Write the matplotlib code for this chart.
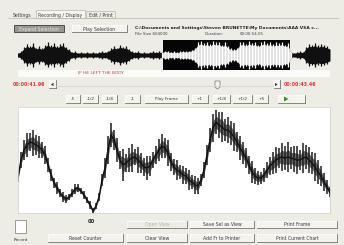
import numpy as np
import matplotlib
matplotlib.use("Agg")
import matplotlib.pyplot as plt
from matplotlib.patches import Rectangle, Polygon

# ---------------- data ----------------
tab_labels = ["Settings", "Recording / Display", "Edit / Print"]
file_path = "C:\\Documents and Settings\\Steven BRUNETTE\\My Documents\\AAA VSA c..."
file_size = "File Size 604000"
duration_label = "Duration:"
duration_value = "00:00:54.05"
transcript = "IF HE LEFT THE BODY"
time_start = "00:00:41.96"
time_end = "00:00:43.46"
step_labels = ["-5", "-1/2", "-1/8", "-1", "Play Frame", "+1", "+1/8", "+1/2", "+5"]
counter_label = "00"
bottom_row1 = ["Open View", "Save Sel as View", "Print Frame"]
bottom_row2 = ["Reset Counter", "Clear View", "Add Fr to Printer", "Print Current Chart"]

# overview waveform envelope (fraction of full scale)
wave_amp = [0.15, 0.25, 0.55, 0.75, 0.6, 0.8, 0.5, 0.6, 0.45, 0.7,
            0.85, 0.65, 0.8, 0.6, 0.75, 0.8, 0.55, 0.4, 0.2, 0.25,
            0.15, 0.2, 0.15, 0.2, 0.15, 0.2, 0.15, 0.2, 0.25, 0.2,
            0.3, 0.45, 0.6, 0.5, 0.7, 0.55, 0.6, 0.4, 0.25, 0.2,
            0.25, 0.15, 0.2, 0.15, 0.2, 0.25, 0.2, 0.25, 0.2,
            0.3, 0.25, 0.2, 0.25, 0.2, 0.25, 0.3, 0.25, 0.3, 0.35,
            0.5, 0.85, 0.95, 0.8, 0.9, 0.75, 0.95, 0.85, 0.9, 0.7,
            0.85, 0.6, 0.45, 0.4, 0.5, 0.85, 0.9, 0.75, 0.95, 0.8,
            0.9, 0.7, 0.85, 0.95, 0.8, 0.9, 0.75, 0.85, 0.8, 0.9,
            0.7, 0.8,
            0.2, 0.15, 0.2, 0.25, 0.2, 0.55, 0.75, 0.7, 0.8, 0.65,
            0.75, 0.7, 0.6, 0.5]
sel_start = 48.3
sel_end = 90.7

# pitch trace: centre value and spread of the jitter
trace_center = [36, 53, 63, 68, 71, 70, 68, 66, 63, 58,
                48, 38, 30, 25, 20, 16, 14,
                16, 20, 24, 25, 22, 18, 13, 8, 2, 7,
                16, 33, 45, 63, 78, 73, 63, 53,
                48, 50, 53, 55, 56, 53, 50, 46, 45, 47, 53, 58, 63, 67, 65, 60, 51,
                46, 43, 41, 38, 37, 33, 31, 28, 27, 33,
                43, 58, 73, 85, 91, 88, 86, 83, 83, 80, 76, 71, 65, 60,
                55, 48, 41, 37, 35, 35, 38, 43, 47,
                50, 53, 55, 56, 55, 56, 55, 54, 53, 53, 55, 56, 53, 50, 46, 41, 37, 31, 26, 21]
trace_spread = [5, 8, 10, 12, 9, 13, 10, 11, 8, 9,
                7, 6, 5, 6, 4, 5, 4,
                3, 4, 5, 4, 3, 4, 3, 4, 3, 3,
                4, 6, 10, 14, 12, 10, 12, 9,
                16, 9, 12, 14, 8, 13, 10, 9, 12, 10, 8, 9, 11, 12, 10, 13, 9,
                8, 10, 7, 9, 8, 10, 7, 9, 8, 6,
                8, 10, 12, 14, 12, 13, 15, 11, 13, 12, 14, 10, 12, 11,
                10, 9, 11, 8, 7, 6, 7, 8, 9,
                11, 13, 10, 14, 12, 15, 11, 13, 14, 10, 15, 12, 13, 11, 14, 12, 10, 9, 7, 5]

# ---------------- figure ----------------
W, H = 344, 245
fig = plt.figure(figsize=(W / 100, H / 100), dpi=100)
fig.patch.set_facecolor("#EEEDE5")
ui = fig.add_axes([0, 0, 1, 1])
ui.set_xlim(0, W)
ui.set_ylim(H, 0)
ui.axis("off")

BG = "#EEEDE5"
TXT = "#3a3a3a"
RED = "#D23838"
FS = 3.3


def button(x0, y0, x1, y1, label, fs=FS, color=TXT, face="#F4F3EE"):
    ui.add_patch(Rectangle((x0, y0), x1 - x0, y1 - y0, facecolor=face, edgecolor="none"))
    ui.plot([x0, x1], [y0, y0], color="#ffffff", lw=0.5)
    ui.plot([x0, x0], [y0, y1], color="#ffffff", lw=0.5)
    ui.plot([x0, x1], [y1, y1], color="#77766e", lw=0.6)
    ui.plot([x1, x1], [y0, y1], color="#77766e", lw=0.6)
    if label:
        ui.text((x0 + x1) / 2, (y0 + y1) / 2 + 0.3, label, fontsize=fs, color=color,
                ha="center", va="center")


# tabs
ui.plot([8, 338], [18.5, 18.5], color="#b8b7ae", lw=0.5)
ui.text(22, 15, tab_labels[0], fontsize=FS, color=TXT, ha="center", va="center")
ui.add_patch(Rectangle((36, 10.5), 49, 8, facecolor="#F7F6F1", edgecolor="#b8b7ae", lw=0.5))
ui.text(60.5, 15, tab_labels[1], fontsize=FS, color=TXT, ha="center", va="center")
ui.add_patch(Rectangle((86, 11.5), 29, 7, facecolor=BG, edgecolor="#b8b7ae", lw=0.5))
ui.text(100.5, 15.3, tab_labels[2], fontsize=FS, color=TXT, ha="center", va="center")

# top buttons
ui.add_patch(Rectangle((14, 25.5), 50, 7, facecolor="#97968f", edgecolor="#4d4d48", lw=0.7))
ui.text(39, 29.2, "Expand Selection", fontsize=FS, color="#ecebe4", ha="center", va="center")
button(72, 25.5, 127, 32.5, "Play Selection")

ui.text(135, 27.5, file_path, fontsize=3.2, color="#222222", ha="left", va="center",
        fontweight="bold")
ui.text(135, 34, file_size, fontsize=2.9, color=TXT, ha="left", va="center")
ui.text(205, 34, duration_label, fontsize=2.9, color=TXT, ha="left", va="center")
ui.text(240, 34, duration_value, fontsize=2.9, color=TXT, ha="left", va="center")

# transcript strip
ui.add_patch(Rectangle((18, 69.5), 312, 7.5, facecolor="#FAFAF7", edgecolor="none"))
ui.text(78, 73.3, transcript, fontsize=3.2, color=RED, ha="left", va="center")

# slider row
ui.text(13, 84.5, time_start, fontsize=3.4, color=RED, ha="left", va="center", fontweight="bold")
ui.text(284, 84.5, time_end, fontsize=3.4, color=RED, ha="left", va="center", fontweight="bold")
button(49, 80.5, 55.5, 88.5, "")
ui.add_patch(Polygon([[51, 84.5], [53.5, 82.8], [53.5, 86.2]], closed=True, facecolor="#333"))
button(273.5, 80.5, 279.5, 88.5, "")
ui.add_patch(Polygon([[277.5, 84.5], [275, 82.8], [275, 86.2]], closed=True, facecolor="#333"))
ui.plot([56, 273], [86.5, 86.5], color="#d6d5cc", lw=0.6)
ui.add_patch(Polygon([[215, 81], [220, 81], [220, 87], [217.5, 89], [215, 87]], closed=True,
                     facecolor="#F4F3EE", edgecolor="#77766e", lw=0.5))

# step buttons
step_pos = [(66, 80), (83, 98), (102, 117), (125, 140), (145, 188), (192, 208),
            (213, 230), (233, 252), (255, 268)]
for (a, b), lab in zip(step_pos, step_labels):
    button(a, 95, b, 103, lab, fs=3.0)
button(278, 95, 305, 103, "")
ui.add_patch(Polygon([[284, 96.5], [288.5, 99], [284, 101.5]], closed=True, facecolor="#1f9a2a"))

# bottom controls
ui.text(91, 221.5, counter_label, fontsize=3.8, color="#222", ha="center", va="center",
        fontweight="bold")
ui.add_patch(Rectangle((15, 220), 11, 13, facecolor="#ffffff", edgecolor="#8c8b84", lw=0.6))
ui.text(21, 240, "Record", fontsize=3.0, color=TXT, ha="center", va="center")
button(127, 220.5, 187, 228, bottom_row1[0], color="#b5b4ad", face=BG)
button(190, 220.5, 254, 228, bottom_row1[1])
button(257, 220.5, 337, 228, bottom_row1[2])
button(48, 233.5, 123, 242, bottom_row2[0])
button(127, 233.5, 187, 242, bottom_row2[1])
button(190, 233.5, 254, 242, bottom_row2[2])
button(257, 233.5, 337, 242, bottom_row2[3])

# ---------------- overview waveform ----------------
wax = fig.add_axes([18 / W, (H - 70) / H, 312 / W, 30 / H])
wax.set_facecolor("#ffffff")
amp = np.array(wave_amp)
xs = np.arange(len(amp))
wax.fill_between(xs, -amp * 0.8, amp * 0.8, color="#101010", lw=0)
wax.vlines(xs, -amp, amp, color="#101010", lw=0.9)
wax.axvspan(sel_start, sel_end, color="#050505", lw=0)
inside = (xs >= np.floor(sel_start)) & (xs <= np.ceil(sel_end))
wax.fill_between(xs, -amp * 0.8, amp * 0.8, where=inside, color="#ffffff", lw=0)
wax.vlines(xs[inside], -amp[inside], amp[inside], color="#ffffff", lw=0.9)
wax.set_xlim(0, len(amp) - 1)
wax.set_ylim(-1.02, 1.02)
wax.axis("off")

# ---------------- main trace ----------------
pax = fig.add_axes([18 / W, (H - 213) / H, 312 / W, 106 / H])
pax.set_facecolor("#ffffff")
c = np.array(trace_center, dtype=float)
s = np.array(trace_spread, dtype=float)
px = np.arange(len(c))
pax.fill_between(px, c - s * 0.5, c + s * 0.5, color="#333333", lw=0, alpha=0.75)
pax.vlines(px, c - s, c + s, color="#1e1e1e", lw=1.1)
pax.plot(px, c, color="#111111", lw=1.0)
pax.set_xlim(0, len(c) - 1)
pax.set_ylim(0, 106)
pax.set_xticks([])
pax.set_yticks([])
for sp in pax.spines.values():
    sp.set_color("#d0cfc6")
    sp.set_linewidth(0.5)

fig.savefig("out.png", dpi=100, facecolor=fig.get_facecolor())
